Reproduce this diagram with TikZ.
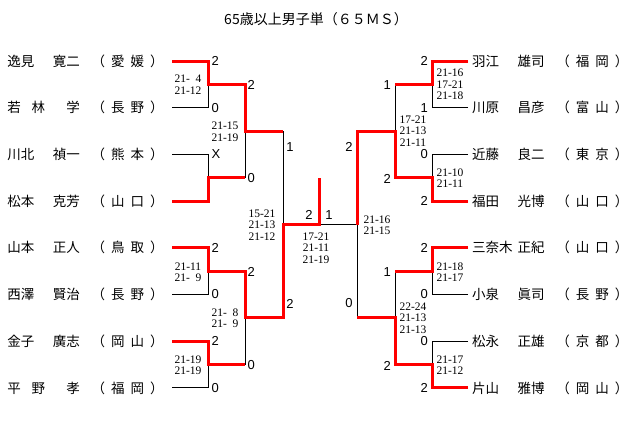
\documentclass[tikz,border=0pt]{standalone}
\usepackage{fontspec}
\setmainfont{Liberation Serif}
\setsansfont{Liberation Sans}
\newfontfamily\jpfont{Noto Sans CJK JP}
\newcommand\pname[3]{\makebox[72.5pt][s]{#1}\hspace{11.75pt}\makebox[72pt][s]{（\hfill #2\hfill #3\hfill ）}}
\tikzset{
  player/.style={font=\jpfont\fontsize{13.5}{14}\selectfont,inner sep=0pt,anchor=west},
  pts/.style={font=\sffamily\fontsize{13}{13}\selectfont,inner sep=0pt},
  ptl/.style={pts,anchor=west},
  ptr/.style={pts,anchor=east},
  games/.style={font=\rmfamily\fontsize{11.5}{11.5}\selectfont,inner sep=0pt,align=center},
  loser/.style={draw=black,line width=0.9pt},
  winner/.style={draw=red,line width=3pt},
}
\begin{document}
\begin{tikzpicture}[x=1pt,y=-1pt]
    \useasboundingbox (0,0) rectangle (640,429);
    \node[font=\jpfont\fontsize{14}{14}\selectfont] (title) at (316,19) {65歳以上男子単（６５ＭＳ）};
    % left half
    \node[player] (pl_1) at (7.25,61)    {\pname{逸見\hfill 寛二}{愛}{媛}};
    \node[player] (pl_2) at (7.25,107.7) {\pname{若\hfill 林\hfill\hfill 学}{長}{野}};
    \node[player] (pl_3) at (7.25,154.4) {\pname{川北\hfill 禎一}{熊}{本}};
    \node[player] (pl_4) at (7.25,201.1) {\pname{松本\hfill 克芳}{山}{口}};
    \node[player] (pl_5) at (7.25,247.8) {\pname{山本\hfill 正人}{鳥}{取}};
    \node[player] (pl_6) at (7.25,294.5) {\pname{西澤\hfill 賢治}{長}{野}};
    \node[player] (pl_7) at (7.25,341.2) {\pname{金子\hfill 廣志}{岡}{山}};
    \node[player] (pl_8) at (7.25,387.9) {\pname{平\hfill 野\hfill\hfill 孝}{福}{岡}};
    % right half
    \node[player] (pr_1) at (472,61)    {\pname{羽江\hfill 雄司}{福}{岡}};
    \node[player] (pr_2) at (472,107.7) {\pname{川原\hfill 昌彦}{富}{山}};
    \node[player] (pr_3) at (472,154.4) {\pname{近藤\hfill 良二}{東}{京}};
    \node[player] (pr_4) at (472,201.1) {\pname{福田\hfill 光博}{山}{口}};
    \node[player] (pr_5) at (472,247.8) {\pname{三奈木\hfill 正紀}{山}{口}};
    \node[player] (pr_6) at (472,294.5) {\pname{小泉\hfill 眞司}{長}{野}};
    \node[player] (pr_7) at (472,341.2) {\pname{松永\hfill 正雄}{京}{都}};
    \node[player] (pr_8) at (472,387.9) {\pname{片山\hfill 雅博}{岡}{山}};
    % bracket points
    \coordinate (el_1) at (172,61);    \coordinate (er_1) at (468,61);
    \coordinate (el_2) at (172,107.7); \coordinate (er_2) at (468,107.7);
    \coordinate (el_3) at (172,154.4); \coordinate (er_3) at (468,154.4);
    \coordinate (el_4) at (172,201.1); \coordinate (er_4) at (468,201.1);
    \coordinate (el_5) at (172,247.8); \coordinate (er_5) at (468,247.8);
    \coordinate (el_6) at (172,294.5); \coordinate (er_6) at (468,294.5);
    \coordinate (el_7) at (172,341.2); \coordinate (er_7) at (468,341.2);
    \coordinate (el_8) at (172,387.9); \coordinate (er_8) at (468,387.9);
    \coordinate (jl_1) at (208,84.4);  \coordinate (jr_1) at (432,84.4);
    \coordinate (jl_2) at (208,177.8); \coordinate (jr_2) at (432,177.8);
    \coordinate (jl_3) at (208,271.2); \coordinate (jr_3) at (432,271.2);
    \coordinate (jl_4) at (208,364.6); \coordinate (jr_4) at (432,364.6);
    \coordinate (kl_1) at (245,131.1); \coordinate (kr_1) at (395,131.1);
    \coordinate (kl_2) at (245,317.9); \coordinate (kr_2) at (395,317.9);
    \coordinate (sl) at (283,224.5);   \coordinate (sr) at (357,224.5);
    \coordinate (ctr) at (319,224.5);  \coordinate (top) at (319,178);
    \path[loser]
    (el_1) -| (jl_1) (el_2) -| (jl_1) (el_3) -| (jl_2) (el_4) -| (jl_2)
    (el_5) -| (jl_3) (el_6) -| (jl_3) (el_7) -| (jl_4) (el_8) -| (jl_4)
    (jl_1) -| (kl_1) (jl_2) -| (kl_1) (jl_3) -| (kl_2) (jl_4) -| (kl_2)
    (kl_1) -| (sl) (kl_2) -| (sl) (sl) -- (sr)
    (er_1) -| (jr_1) (er_2) -| (jr_1) (er_3) -| (jr_2) (er_4) -| (jr_2)
    (er_5) -| (jr_3) (er_6) -| (jr_3) (er_7) -| (jr_4) (er_8) -| (jr_4)
    (jr_1) -| (kr_1) (jr_2) -| (kr_1) (jr_3) -| (kr_2) (jr_4) -| (kr_2)
    (kr_1) -| (sr) (kr_2) -| (sr)
    ; %end path
    \path[winner]
    (el_1) -| (jl_1) -| (kl_1) -- (kl_1 -| sl)
    (el_4) -| (jl_2) -- (jl_2 -| kl_1)
    (el_5) -| (jl_3) -| (kl_2) -| (sl) -- (ctr) -- (top)
    (el_7) -| (jl_4) -- (jl_4 -| kl_2)
    (er_1) -| (jr_1) -- (jr_1 -| kr_1)
    (er_4) -| (jr_2) -| (kr_1) -| (sr)
    (er_5) -| (jr_3) -- (jr_3 -| kr_2)
    (er_8) -| (jr_4) -| (kr_2) -- (kr_2 -| sr)
    ; %end path
    % games won
    \node[ptl] (wl_1) at (211.5,61)    {2};
    \node[ptl] (wl_2) at (211.5,107.7) {0};
    \node[ptl] (wl_3) at (211.5,154.4) {X};
    \node[ptl] (wl_5) at (211.5,247.8) {2};
    \node[ptl] (wl_6) at (211.5,294.5) {0};
    \node[ptl] (wl_7) at (211.5,341.2) {2};
    \node[ptl] (wl_8) at (211.5,387.9) {0};
    \node[ptl] (xl_1) at (247.5,85)  {2};
    \node[ptl] (xl_2) at (247.5,178) {0};
    \node[ptl] (xl_3) at (247.5,272) {2};
    \node[ptl] (xl_4) at (247.5,365) {0};
    \node[pts] (yl_1) at (290,147) {1};
    \node[pts] (yl_2) at (290,304) {2};
    \node[pts] (fl) at (309,215) {2};
    \node[pts] (fr) at (329,215) {1};
    \node[pts] (yr_1) at (349,147) {2};
    \node[pts] (yr_2) at (349,303) {0};
    \node[ptr] (xr_1) at (391,85)  {1};
    \node[ptr] (xr_2) at (391,179) {2};
    \node[ptr] (xr_3) at (391,272) {1};
    \node[ptr] (xr_4) at (391,366) {2};
    \node[ptr] (wr_1) at (428,61)    {2};
    \node[ptr] (wr_2) at (428,107.7) {1};
    \node[ptr] (wr_3) at (428,154.4) {0};
    \node[ptr] (wr_4) at (428,201.1) {2};
    \node[ptr] (wr_5) at (428,247.8) {2};
    \node[ptr] (wr_6) at (428,294.5) {0};
    \node[ptr] (wr_7) at (428,341.2) {0};
    \node[ptr] (wr_8) at (428,387.9) {2};
    % rally scores
    \node[games] (gl_1) at (188,84.5) {21-\enspace 4\\21-12};
    \node[games] (gl_3) at (188,272)  {21-11\\21-\enspace 9};
    \node[games] (gl_4) at (188,365)  {21-19\\21-19};
    \node[games] (hl_1) at (225,131.5) {21-15\\21-19};
    \node[games] (hl_2) at (225,318)   {21-\enspace 8\\21-\enspace 9};
    \node[games] (sfl) at (262,225) {15-21\\21-13\\21-12};
    \node[games] (fin) at (316,248) {17-21\\21-11\\21-19};
    \node[games] (sfr) at (377,225) {21-16\\21-15};
    \node[games] (hr_1) at (413,131) {17-21\\21-13\\21-11};
    \node[games] (hr_2) at (413,318) {22-24\\21-13\\21-13};
    \node[games] (gr_1) at (450,84.5) {21-16\\17-21\\21-18};
    \node[games] (gr_2) at (450,178)  {21-10\\21-11};
    \node[games] (gr_3) at (450,272)  {21-18\\21-17};
    \node[games] (gr_4) at (450,365)  {21-17\\21-12};
\end{tikzpicture}
\end{document}
